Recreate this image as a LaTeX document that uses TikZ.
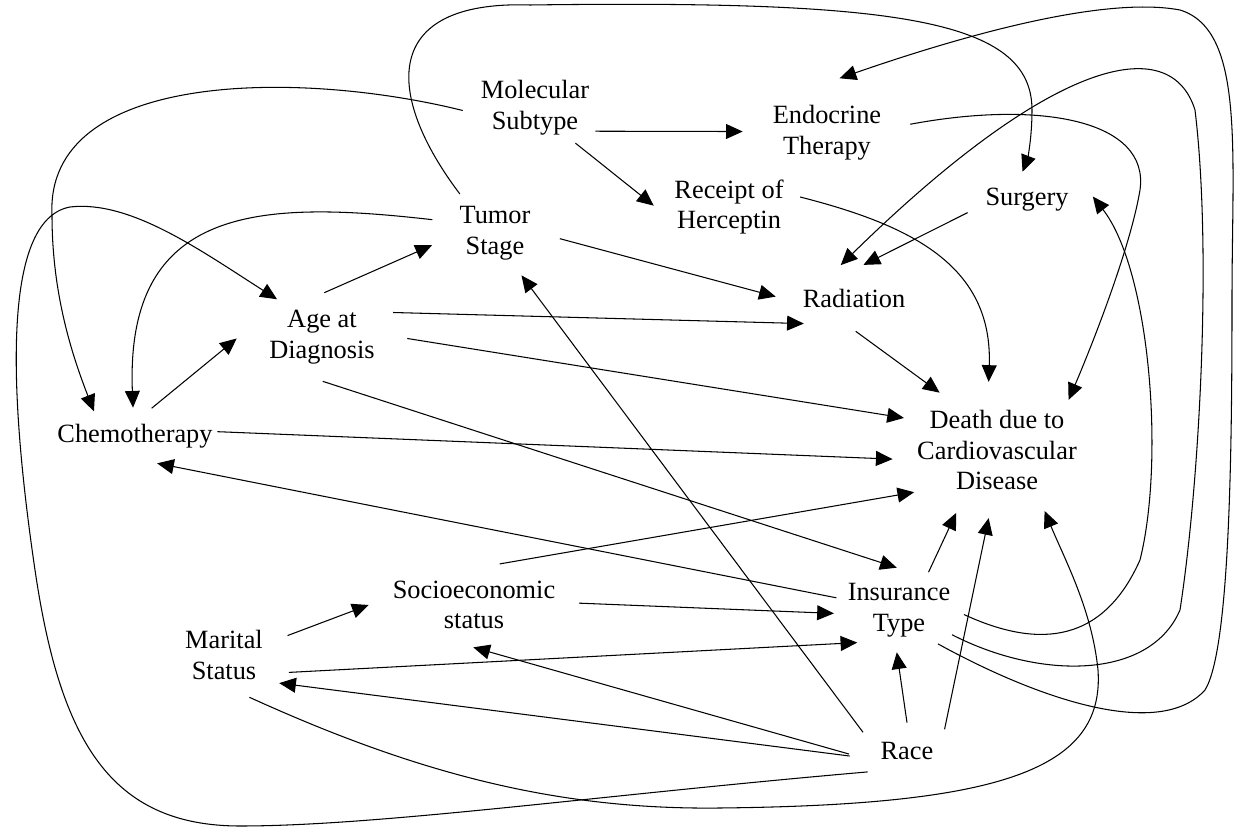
\documentclass[tikz,border=0pt]{standalone}
\usepackage{fontspec}
\setmainfont{Liberation Serif}
\usetikzlibrary{arrows.meta}
\usetikzlibrary{shapes.geometric}

\tikzset{
  var/.style={ellipse, inner sep=0pt},
  vartext/.style={align=center, font=\fontsize{15}{17.5}\selectfont},
  arr/.style={-{Triangle[length=9.5pt,width=8.5pt]}, line width=0.6pt},
}

\begin{document}
\begin{tikzpicture}[x=0.02cm, y=-0.02cm]
\useasboundingbox (0,0) rectangle (1249,827);

% variables
\node[var, minimum width=2.88cm, minimum height=1.68cm, label={[vartext]center:{Molecular\\Subtype}}] (mol) at (535,108) {};
\node[var, minimum width=3.36cm, minimum height=2.2cm, label={[vartext]center:{Endocrine\\Therapy}}] (endo) at (827,133) {};
\node[var, minimum width=3cm, minimum height=1.2cm, label={[vartext]center:{Receipt of\\Herceptin}}] (herc) at (729,207) {};
\node[var, minimum width=2.6cm, minimum height=1.84cm, label={[vartext]center:{Tumor\\Stage}}] (tumor) at (495,233) {};
\node[var, minimum width=2.64cm, minimum height=1.12cm, label={[vartext]center:Surgery}] (surg) at (1027,200) {};
\node[var, minimum width=3.12cm, minimum height=1.32cm, label={[vartext]center:Radiation}] (rad) at (854,298) {};
\node[var, minimum width=3.4cm, minimum height=1.76cm, label={[vartext]center:{Age at\\Diagnosis}}] (age) at (322,337) {};
\node[var, minimum width=3.32cm, minimum height=1.12cm, label={[vartext]center:Chemotherapy}] (chemo) at (135,436) {};
\node[var, minimum width=4.2cm, minimum height=2.72cm, label={[vartext]center:{Death due to\\Cardiovascular\\Disease}}] (death) at (997,450) {};
\node[var, minimum width=4.2cm, minimum height=1.68cm, label={[vartext]center:{Socioeconomic\\status}}] (socio) at (474,605) {};
\node[var, minimum width=2.6cm, minimum height=1.68cm, label={[vartext]center:{Insurance\\Type}}] (ins) at (899,610) {};
\node[var, minimum width=2.8cm, minimum height=1.8cm, label={[vartext]center:{Marital\\Status}}] (mar) at (224,655) {};
\node[var, minimum width=2.32cm, minimum height=1.12cm, label={[vartext]center:Race}] (race) at (907,751) {};

% straight arrows
\draw[arr] (mol.-21) -- (endo.179);
\draw[arr] (mol.-41) -- (herc.179);
\draw[arr] (age.87) -- (tumor.191);
\draw[arr] (tumor.-5) -- (rad.179);
\draw[arr] (age.19) -- (rad.207);
\draw[arr] (age.-1) -- (death.161);
\draw[arr] (age.-89) -- (ins.93);
\draw[arr] (chemo.59) -- (age.181);
\draw[arr] (chemo.3) -- (death.185);
\draw[arr] (ins.169) -- (chemo.-51);
\draw[arr] (socio.58) -- (death.207);
\draw[arr] (socio.1) -- (ins.183);
\draw[arr] (mar.17) -- (socio.180);
\draw[arr] (mar.-15) -- (ins.218);
\draw[arr] (race.185) -- (mar.-27);
\draw[arr] (race.183) -- (socio.269);
\draw[arr] (race.157) -- (tumor.-58);
\draw[arr] (race.90) -- (ins.267);
\draw[arr] (race.30) -- (death.263);
\draw[arr] (ins.52) -- (death.237);
\draw[arr] (rad.-87) -- (death.135);
\draw[arr] (surg.192) -- (rad.74);

% curved arrows
\draw[arr] (mol.182) .. controls (300,70) and (45,70) .. (52,215)
  .. controls (52,290) and (70,350) .. (chemo.149);
\draw[arr] (tumor.168) .. controls (260,200) and (125,205) .. (chemo.94);
\draw[arr] (race.208) .. controls (600,795) and (380,826) .. (240,826)
  .. controls (110,826) and (60,740) .. (35,570)
  .. controls (10,400) and (0,220) .. (70,207)
  .. controls (130,200) and (200,250) .. (age.140);
\draw[arr] (tumor.132) .. controls (385,95) and (380,0) .. (530,5)
  .. controls (900,0) and (1032,20) .. (1032,110)
  .. controls (1032,140) and (1027,160) .. (surg.99);
\draw[arr] (herc.8) .. controls (910,225) and (993,265) .. (death.97);
\draw[arr] (endo.6) .. controls (1040,100) and (1150,120) .. (1140,190)
  .. controls (1130,250) and (1090,350) .. (death.35);
\draw[arr] (ins.-4) .. controls (1030,645) and (1100,650) .. (1140,560)
  .. controls (1165,460) and (1150,270) .. (surg.3);
\draw[arr] (ins.-25) .. controls (1040,680) and (1150,680) .. (1180,610)
  .. controls (1200,480) and (1212,250) .. (1195,110)
  .. controls (1170,30) and (1050,60) .. (rad.112);
\draw[arr] (ins.-41) .. controls (1040,700) and (1160,740) .. (1205,690)
  .. controls (1230,650) and (1232,450) .. (1232,300)
  .. controls (1232,150) and (1245,30) .. (1180,10)
  .. controls (1100,-5) and (950,40) .. (endo.77);
\draw[arr] (mar.-59) .. controls (420,775) and (560,810) .. (720,808)
  .. controls (1000,805) and (1105,770) .. (1098,670)
  .. controls (1092,610) and (1065,560) .. (death.308);
\end{tikzpicture}
\end{document}
